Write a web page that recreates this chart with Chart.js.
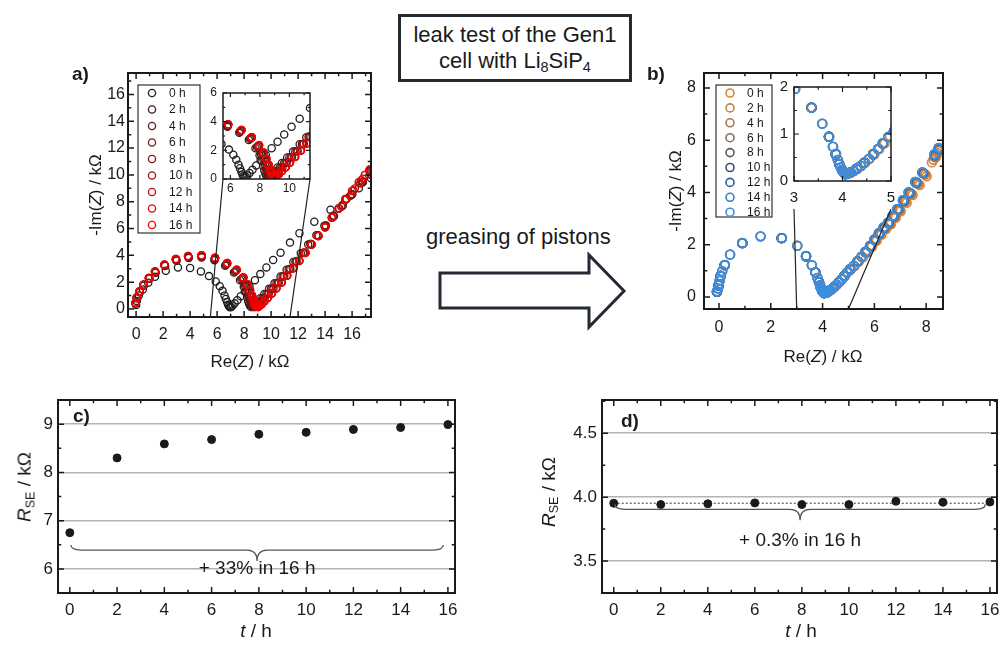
<!DOCTYPE html>
<html>
<head>
<meta charset="utf-8">
<title>leak test of the Gen1 cell with Li8SiP4</title>
<script src="https://cdn.jsdelivr.net/npm/chart.js@4.4.1/dist/chart.umd.min.js"></script>
<style>
  html, body { margin: 0; padding: 0; background: #fff; }
  body { position: relative; width: 1002px; height: 646px; overflow: hidden;
         font-family: "Liberation Sans", Arial, sans-serif; color: #1a1a1a; }
  canvas, .txt, svg { position: absolute; }
  .txt { white-space: nowrap; line-height: 1; }
  .rot { transform: translate(-50%, -50%) rotate(-90deg); }
  .ctr { transform: translate(-50%, -50%); }
  .panel { font-weight: bold; font-size: 19px; }
  sub { font-size: 0.66em; line-height: 0; vertical-align: -0.28em; }
  #title { position: absolute; left: 398px; top: 14px; width: 234px; height: 68px; box-sizing: border-box;
           border: 3px solid #232a33; text-align: center; font-size: 22px; line-height: 26px; padding-top: 5px; }
</style>
</head>
<body>
<svg width="1002" height="646" style="left:0;top:0">
  <polygon points="440,273 589,273 589,255 624,291 589,327 589,308 440,308" fill="#fff" stroke="#232a33" stroke-width="3"/>
</svg>
<div id="title">leak test of the Gen1<br>cell with Li<sub>8</sub>SiP<sub>4</sub></div>
<div class="txt" style="left:426px;top:226px;font-size:22px">greasing of pistons</div>

<canvas id="chartA"></canvas>
<canvas id="insetA"></canvas>
<canvas id="chartB"></canvas>
<canvas id="insetB"></canvas>
<canvas id="chartC"></canvas>
<canvas id="chartD"></canvas>
<canvas id="links"></canvas>

<div class="txt panel" style="left:72px;top:64px">a)</div>
<div class="txt panel" style="left:647px;top:64px">b)</div>
<div class="txt panel" style="left:73px;top:406px">c)</div>
<div class="txt panel" style="left:621px;top:411px">d)</div>

<div class="txt rot" style="left:95px;top:195px;font-size:17px">-Im(<i>Z</i>) / kΩ</div>
<div class="txt ctr" style="left:250px;top:361px;font-size:17px">Re(<i>Z</i>) / kΩ</div>
<div class="txt rot" style="left:675px;top:191px;font-size:17px">-Im(<i>Z</i>) / kΩ</div>
<div class="txt ctr" style="left:823px;top:356px;font-size:17px">Re(<i>Z</i>) / kΩ</div>
<div class="txt rot" style="left:24px;top:487px;font-size:19px"><i>R</i><sub>SE</sub> / kΩ</div>
<div class="txt ctr" style="left:256px;top:630px;font-size:19px"><i>t</i> / h</div>
<div class="txt rot" style="left:548px;top:492px;font-size:19px"><i>R</i><sub>SE</sub> / kΩ</div>
<div class="txt ctr" style="left:801px;top:630px;font-size:19px"><i>t</i> / h</div>

<script>
const FONT = '"Liberation Sans", Arial, sans-serif';
const INK = '#1a1a1a';

// ---------- a) impedance spectra before greasing, [Re(Z), -Im(Z)] in kOhm
const hoursA = ['0 h', '2 h', '4 h', '6 h', '8 h', '10 h', '12 h', '14 h', '16 h'];
const colorsA = ['#1e1e1e', '#3a1c1c', '#561c1c', '#6e1a1a', '#881616', '#a41212', '#c00c0c', '#dc0606', '#f50000'];

const a0h = [[0,0.3],[0.05,0.6],[0.2,1.0],[0.5,1.45],[0.9,1.95],[1.4,2.4],[2.2,2.85],[3.1,3.1],[4.0,3.05],[4.8,2.8],[5.4,2.45],[5.9,2.05],[6.2,1.7],[6.4,1.35],[6.55,1.0],[6.65,0.75],[6.75,0.5],[6.82,0.32],[6.88,0.2],[6.95,0.13],[7.05,0.15],[7.15,0.25],[7.3,0.42],[7.5,0.65],[7.75,0.95],[8.05,1.3],[8.4,1.7],[8.8,2.15],[9.2,2.6],[9.65,3.1],[10.15,3.65],[10.7,4.2],[11.4,4.95],[12.1,5.65],[13.2,6.5],[14.4,7.4],[15.5,8.2],[16.5,9.0],[17.4,9.75]];
const a2h = [[-0.02,0.42],[0.08,0.8],[0.28,1.25],[0.58,1.75],[0.98,2.25],[1.45,2.7],[2.15,3.2],[3.0,3.6],[3.9,3.8],[4.85,3.84],[5.8,3.64],[6.6,3.22],[7.25,2.72],[7.7,2.15],[7.98,1.65],[8.12,1.25],[8.22,0.9],[8.3,0.6],[8.37,0.38],[8.44,0.22],[8.52,0.15],[8.62,0.19],[8.76,0.33],[8.95,0.53],[9.2,0.8],[9.5,1.12],[9.85,1.5],[10.25,1.92],[10.7,2.42],[11.15,2.92],[11.65,3.5],[12.2,4.15],[12.75,4.8],[13.35,5.5],[13.95,6.2],[14.6,6.95],[15.3,7.75],[16.0,8.55],[16.8,9.45],[17.4,10.0]];
const a4h = [[-0.03,0.43],[0.07,0.82],[0.27,1.27],[0.57,1.77],[0.97,2.27],[1.42,2.74],[2.12,3.24],[2.97,3.65],[3.88,3.86],[4.85,3.9],[5.82,3.7],[6.65,3.3],[7.32,2.8],[7.8,2.22],[8.08,1.72],[8.25,1.3],[8.36,0.94],[8.44,0.63],[8.5,0.4],[8.57,0.23],[8.65,0.15],[8.75,0.2],[8.9,0.33],[9.1,0.53],[9.35,0.8],[9.65,1.12],[10.0,1.5],[10.4,1.93],[10.85,2.43],[11.3,2.95],[11.8,3.53],[12.35,4.18],[12.9,4.84],[13.45,5.5],[14.05,6.22],[14.65,6.95],[15.3,7.72],[16.0,8.55],[16.75,9.45],[17.35,10.1]];
const a6h = [[-0.04,0.44],[0.06,0.83],[0.26,1.28],[0.56,1.78],[0.96,2.28],[1.41,2.76],[2.11,3.26],[2.96,3.68],[3.87,3.9],[4.85,3.94],[5.83,3.75],[6.7,3.35],[7.38,2.85],[7.86,2.28],[8.15,1.78],[8.33,1.34],[8.46,0.96],[8.55,0.65],[8.62,0.41],[8.68,0.24],[8.75,0.15],[8.85,0.2],[9.0,0.33],[9.2,0.53],[9.45,0.8],[9.75,1.12],[10.1,1.5],[10.5,1.94],[10.93,2.44],[11.38,2.97],[11.86,3.55],[12.4,4.2],[12.93,4.84],[13.48,5.5],[14.06,6.2],[14.65,6.92],[15.28,7.7],[15.95,8.5],[16.7,9.45],[17.33,10.2]];
const a8h = [[-0.04,0.44],[0.06,0.84],[0.26,1.29],[0.56,1.79],[0.96,2.29],[1.41,2.78],[2.1,3.28],[2.95,3.7],[3.86,3.92],[4.85,3.96],[5.84,3.78],[6.72,3.38],[7.42,2.88],[7.9,2.31],[8.2,1.81],[8.38,1.37],[8.52,0.98],[8.62,0.66],[8.7,0.42],[8.77,0.24],[8.84,0.15],[8.94,0.2],[9.08,0.33],[9.28,0.54],[9.53,0.8],[9.83,1.13],[10.18,1.52],[10.57,1.96],[10.98,2.46],[11.43,3.0],[11.9,3.57],[12.42,4.2],[12.95,4.84],[13.48,5.5],[14.04,6.2],[14.6,6.9],[15.2,7.62],[15.85,8.42],[16.6,9.35],[17.3,10.25]];
const a10h = [[-0.05,0.45],[0.05,0.85],[0.25,1.3],[0.55,1.8],[0.95,2.3],[1.4,2.79],[2.1,3.29],[2.95,3.71],[3.85,3.93],[4.85,3.98],[5.85,3.8],[6.74,3.4],[7.44,2.9],[7.93,2.33],[8.22,1.83],[8.41,1.38],[8.55,0.99],[8.66,0.67],[8.74,0.42],[8.82,0.25],[8.89,0.16],[8.99,0.16],[9.1,0.23],[9.26,0.36],[9.46,0.56],[9.71,0.82],[10.01,1.14],[10.36,1.53],[10.76,1.98],[11.17,2.47],[11.61,3.02],[12.07,3.58],[12.53,4.18],[13.0,4.8],[13.5,5.45],[14.0,6.1],[14.52,6.82],[15.05,7.52],[15.6,8.22],[16.2,8.98],[16.8,9.72],[17.3,10.3]];
const a12h = [[-0.05,0.45],[0.05,0.85],[0.25,1.3],[0.55,1.8],[0.95,2.3],[1.4,2.8],[2.1,3.3],[2.95,3.72],[3.85,3.94],[4.85,3.99],[5.85,3.81],[6.75,3.41],[7.45,2.91],[7.94,2.34],[8.24,1.84],[8.43,1.39],[8.58,0.99],[8.69,0.67],[8.77,0.42],[8.85,0.25],[8.92,0.16],[9.02,0.15],[9.12,0.22],[9.28,0.35],[9.48,0.55],[9.73,0.81],[10.03,1.14],[10.38,1.54],[10.78,1.99],[11.18,2.49],[11.63,3.04],[12.08,3.59],[12.54,4.19],[13.0,4.8],[13.5,5.45],[14.0,6.1],[14.5,6.8],[15.02,7.5],[15.55,8.18],[16.1,8.86],[16.7,9.6],[17.3,10.35]];
const a14h = [[-0.05,0.45],[0.05,0.85],[0.25,1.3],[0.55,1.8],[0.95,2.3],[1.4,2.8],[2.1,3.3],[2.95,3.72],[3.85,3.95],[4.85,4.0],[5.85,3.82],[6.75,3.42],[7.45,2.92],[7.95,2.35],[8.25,1.85],[8.44,1.4],[8.59,1.0],[8.7,0.68],[8.79,0.42],[8.87,0.25],[8.94,0.16],[9.04,0.15],[9.14,0.22],[9.29,0.35],[9.49,0.55],[9.74,0.82],[10.04,1.15],[10.39,1.55],[10.79,2.0],[11.19,2.5],[11.64,3.05],[12.09,3.6],[12.54,4.2],[13.0,4.8],[13.5,5.45],[14.0,6.1],[14.5,6.8],[15.0,7.5],[15.5,8.15],[16.0,8.8],[16.5,9.45],[16.95,10.0],[17.3,10.4]];
const a16h = [[-0.05,0.45],[0.05,0.85],[0.25,1.3],[0.55,1.8],[0.95,2.3],[1.4,2.8],[2.1,3.3],[2.95,3.72],[3.85,3.95],[4.85,4.0],[5.85,3.82],[6.75,3.42],[7.45,2.92],[7.95,2.35],[8.25,1.85],[8.45,1.4],[8.6,1.0],[8.72,0.68],[8.8,0.42],[8.88,0.25],[8.95,0.16],[9.05,0.15],[9.15,0.22],[9.3,0.35],[9.5,0.55],[9.75,0.82],[10.05,1.15],[10.4,1.55],[10.8,2.0],[11.2,2.5],[11.65,3.05],[12.1,3.6],[12.55,4.2],[13.0,4.8],[13.5,5.45],[14.0,6.1],[14.5,6.8],[15.0,7.5],[15.5,8.15],[16.0,8.8],[16.5,9.45],[16.95,10.0],[17.3,10.4]];
const seriesA = [a0h, a2h, a4h, a6h, a8h, a10h, a12h, a14h, a16h];

const aXTicks = [0, 2, 4, 6, 8, 10, 12, 14, 16];
const aYTicks = [0, 2, 4, 6, 8, 10, 12, 14, 16];
const aInsetXTicks = [6, 8, 10];
const aInsetYTicks = [0, 2, 4, 6];

// ---------- b) impedance spectra after greasing
const hoursB = ['0 h', '2 h', '4 h', '6 h', '8 h', '10 h', '12 h', '14 h', '16 h'];
const colorsB = ['#df8033', '#c5824a', '#a47a5a', '#826f62', '#5b5b5e', '#3c4f6e', '#2e5f9c', '#3579c6', '#3d8fe0'];

const b0h = [[-0.07,0.2],[-0.03,0.32],[0,0.45],[0.03,0.62],[0.07,0.8],[0.13,0.98],[0.23,1.22],[0.43,1.62],[0.91,2.06],[1.61,2.32],[2.43,2.25],[3.03,1.96],[3.37,1.56],[3.59,1.22],[3.73,0.94],[3.81,0.73],[3.87,0.57],[3.91,0.45],[3.94,0.36],[3.97,0.29],[4.0,0.23],[4.03,0.18],[4.07,0.15],[4.12,0.16],[4.18,0.18],[4.24,0.21],[4.31,0.26],[4.39,0.32],[4.47,0.39],[4.56,0.47],[4.66,0.57],[4.76,0.68],[4.87,0.8],[4.98,0.96],[5.1,1.06],[5.24,1.18],[5.4,1.35],[5.56,1.52],[5.73,1.7],[5.91,1.92],[6.09,2.15],[6.27,2.38],[6.46,2.6],[6.64,2.78],[6.83,3.03],[7.02,3.28],[7.25,3.6],[7.48,3.9],[7.75,4.28],[8.02,4.62],[8.22,5.15],[8.38,5.35]];
const b2h = [[-0.07,0.21],[0,0.45],[0.06,0.8],[0.22,1.22],[0.9,2.06],[2.42,2.25],[3.36,1.57],[3.72,0.95],[3.86,0.58],[3.93,0.37],[3.99,0.24],[4.06,0.15],[4.16,0.18],[4.29,0.26],[4.45,0.39],[4.63,0.57],[4.83,0.79],[5.07,1.05],[5.36,1.35],[5.67,1.7],[5.86,1.92],[6.04,2.16],[6.22,2.4],[6.41,2.62],[6.6,2.8],[6.79,3.06],[6.98,3.31],[7.2,3.64],[7.43,3.94],[7.7,4.32],[7.97,4.68],[8.28,5.25],[8.44,5.5]];
const b4h = [[-0.08,0.2],[-0.01,0.45],[0.06,0.81],[0.22,1.23],[0.9,2.07],[2.42,2.26],[3.36,1.56],[3.72,0.94],[3.86,0.57],[3.93,0.36],[3.99,0.23],[4.06,0.15],[4.16,0.18],[4.29,0.26],[4.45,0.39],[4.63,0.57],[4.83,0.8],[5.06,1.05],[5.36,1.36],[5.66,1.71],[5.85,1.93],[6.03,2.17],[6.21,2.41],[6.4,2.63],[6.58,2.81],[6.77,3.07],[6.95,3.33],[7.17,3.66],[7.4,3.96],[7.66,4.35],[7.93,4.71],[8.32,5.35],[8.47,5.58]];
const b6h = [[-0.08,0.2],[-0.01,0.45],[0.06,0.8],[0.22,1.22],[0.9,2.06],[2.42,2.25],[3.36,1.56],[3.72,0.94],[3.86,0.57],[3.93,0.36],[3.99,0.23],[4.06,0.15],[4.16,0.18],[4.29,0.26],[4.45,0.39],[4.63,0.57],[4.83,0.8],[5.06,1.06],[5.35,1.37],[5.66,1.72],[5.85,1.94],[6.02,2.18],[6.2,2.42],[6.38,2.64],[6.56,2.82],[6.75,3.08],[6.93,3.34],[7.15,3.67],[7.37,3.97],[7.63,4.37],[7.9,4.73],[8.34,5.4],[8.49,5.63]];
const b8h = [[-0.08,0.2],[-0.02,0.44],[0.06,0.8],[0.22,1.22],[0.9,2.06],[2.42,2.25],[3.36,1.56],[3.72,0.94],[3.86,0.57],[3.93,0.36],[3.99,0.23],[4.06,0.15],[4.16,0.18],[4.29,0.26],[4.45,0.39],[4.63,0.57],[4.83,0.8],[5.06,1.06],[5.35,1.37],[5.66,1.73],[5.84,1.95],[6.01,2.19],[6.19,2.43],[6.37,2.65],[6.55,2.83],[6.73,3.09],[6.91,3.35],[7.13,3.68],[7.35,3.98],[7.61,4.38],[7.88,4.74],[8.33,5.43],[8.49,5.66]];
const b10h = [[-0.08,0.2],[-0.02,0.45],[0.06,0.8],[0.22,1.22],[0.9,2.06],[2.42,2.25],[3.36,1.56],[3.72,0.94],[3.86,0.57],[3.93,0.36],[3.99,0.23],[4.06,0.15],[4.16,0.18],[4.29,0.26],[4.45,0.39],[4.63,0.57],[4.83,0.8],[5.06,1.06],[5.35,1.37],[5.66,1.73],[5.84,1.96],[6.01,2.2],[6.18,2.44],[6.36,2.66],[6.53,2.84],[6.71,3.1],[6.89,3.36],[7.11,3.7],[7.33,4.0],[7.59,4.4],[7.86,4.76],[8.33,5.45],[8.48,5.69]];
const b12h = [[-0.08,0.2],[-0.01,0.45],[0.06,0.8],[0.22,1.22],[0.9,2.06],[2.42,2.25],[3.36,1.56],[3.72,0.94],[3.86,0.57],[3.93,0.36],[3.99,0.23],[4.06,0.15],[4.16,0.18],[4.29,0.26],[4.45,0.39],[4.63,0.57],[4.83,0.8],[5.06,1.06],[5.35,1.37],[5.66,1.73],[5.83,1.96],[6.0,2.2],[6.17,2.44],[6.35,2.66],[6.52,2.84],[6.7,3.1],[6.88,3.36],[7.1,3.7],[7.32,4.0],[7.58,4.4],[7.85,4.76],[8.32,5.46],[8.48,5.7]];
const b14h = [[-0.08,0.21],[-0.04,0.33],[-0.01,0.46],[0.02,0.63],[0.06,0.81],[0.12,0.99],[0.22,1.23],[0.43,1.63],[0.9,2.07],[1.6,2.32],[2.42,2.25],[3.02,1.96],[3.36,1.56],[3.58,1.22],[3.72,0.94],[3.8,0.73],[3.86,0.57],[3.9,0.45],[3.93,0.36],[3.96,0.29],[3.99,0.23],[4.02,0.18],[4.06,0.15],[4.11,0.16],[4.16,0.18],[4.22,0.21],[4.29,0.26],[4.37,0.32],[4.45,0.39],[4.54,0.47],[4.63,0.57],[4.73,0.68],[4.83,0.8],[4.94,0.93],[5.06,1.05],[5.2,1.19],[5.35,1.36],[5.5,1.54],[5.66,1.72],[5.84,1.95],[6.01,2.19],[6.18,2.43],[6.36,2.65],[6.53,2.83],[6.71,3.09],[6.9,3.35],[7.12,3.69],[7.34,3.99],[7.6,4.38],[7.87,4.74],[8.34,5.44],[8.5,5.68]];
const b16h = [[-0.08,0.2],[-0.04,0.32],[-0.01,0.45],[0.02,0.62],[0.06,0.8],[0.12,0.98],[0.22,1.22],[0.42,1.62],[0.9,2.06],[1.6,2.32],[2.42,2.25],[3.02,1.96],[3.36,1.56],[3.58,1.22],[3.72,0.94],[3.8,0.73],[3.86,0.57],[3.9,0.45],[3.93,0.36],[3.96,0.29],[3.99,0.23],[4.02,0.18],[4.06,0.15],[4.11,0.16],[4.16,0.18],[4.22,0.21],[4.29,0.26],[4.37,0.32],[4.45,0.39],[4.54,0.47],[4.63,0.57],[4.73,0.68],[4.83,0.8],[4.94,0.94],[5.06,1.06],[5.2,1.2],[5.35,1.37],[5.5,1.55],[5.66,1.73],[5.83,1.96],[6.0,2.2],[6.17,2.44],[6.35,2.66],[6.52,2.84],[6.7,3.1],[6.88,3.36],[7.1,3.7],[7.32,4.0],[7.58,4.4],[7.85,4.76],[8.32,5.46],[8.48,5.7]];
const seriesB = [b0h, b2h, b4h, b6h, b8h, b10h, b12h, b14h, b16h];

const bXTicks = [0, 2, 4, 6, 8];
const bYTicks = [0, 2, 4, 6, 8];
const bInsetXTicks = [3, 4, 5];
const bInsetYTicks = [0, 1, 2];

// ---------- c) / d) bulk resistance over time
const hoursT = [0, 2, 4, 6, 8, 10, 12, 14, 16];
const rseBefore = [6.75, 8.30, 8.59, 8.68, 8.79, 8.83, 8.89, 8.93, 8.99];
const rseAfter = [3.952, 3.942, 3.948, 3.955, 3.942, 3.942, 3.968, 3.960, 3.962];
const rseAfterMean = 3.952;
const tTicks = [0, 2, 4, 6, 8, 10, 12, 14, 16];
const cYTicks = [6, 7, 8, 9];
const dYTicks = [3.5, 4.0, 4.5];

// ---------- helpers
const pts = arr => arr.map(([x, y]) => ({ x, y }));

function steps(min, max, step) {
  const out = [];
  for (let v = Math.ceil(min / step - 1e-9) * step; v <= max + 1e-9; v += step) out.push(+v.toFixed(6));
  return out;
}

// box with inward major/minor ticks on all four sides
const framePlugin = {
  id: 'frame',
  beforeDraw(chart, args, o) {
    if (!o.fill) return;
    const a = chart.chartArea, ctx = chart.ctx;
    ctx.save();
    ctx.fillStyle = o.fill;
    ctx.fillRect(a.left, a.top, a.right - a.left, a.bottom - a.top);
    ctx.restore();
  },
  afterDatasetsDraw(chart, args, o) {
    const { ctx, chartArea: a, scales: { x, y } } = chart;
    const major = (s, v) => s.ticks.some(t => Math.abs(t.value - v) < 1e-6);
    ctx.save();
    ctx.strokeStyle = INK;
    ctx.lineWidth = o.tickWidth;
    ctx.beginPath();
    steps(x.min, x.max, o.xMinor).forEach(v => {
      const p = x.getPixelForValue(v), len = major(x, v) ? o.len : o.len * 0.55;
      ctx.moveTo(p, a.bottom); ctx.lineTo(p, a.bottom - len);
      ctx.moveTo(p, a.top); ctx.lineTo(p, a.top + len);
    });
    steps(y.min, y.max, o.yMinor).forEach(v => {
      const p = y.getPixelForValue(v), len = major(y, v) ? o.len : o.len * 0.55;
      ctx.moveTo(a.left, p); ctx.lineTo(a.left + len, p);
      ctx.moveTo(a.right, p); ctx.lineTo(a.right - len, p);
    });
    ctx.stroke();
    ctx.lineWidth = o.width;
    ctx.strokeRect(a.left, a.top, a.right - a.left, a.bottom - a.top);
    ctx.restore();
  }
};

// boxed legend inside the plot area
const keyPlugin = {
  id: 'key',
  afterDatasetsDraw(chart, args, o) {
    const { ctx, chartArea: a } = chart;
    ctx.save();
    ctx.fillStyle = '#fff';
    ctx.fillRect(a.left + o.left, a.top + o.top, o.w, o.h);
    ctx.strokeStyle = '#333';
    ctx.lineWidth = 1.2;
    ctx.strokeRect(a.left + o.left, a.top + o.top, o.w, o.h);
    ctx.font = o.size + 'px ' + FONT;
    ctx.textAlign = 'left';
    ctx.textBaseline = 'middle';
    chart.data.datasets.forEach((ds, i) => {
      const cy = a.top + o.row0 + i * o.step;
      ctx.beginPath();
      ctx.arc(a.left + o.mark, cy, o.r, 0, Math.PI * 2);
      ctx.strokeStyle = ds.borderColor;
      ctx.lineWidth = ds.pointBorderWidth;
      ctx.stroke();
      ctx.fillStyle = INK;
      ctx.fillText(ds.label, a.left + o.text, cy + 0.5);
    });
    ctx.restore();
  }
};

// curly brace under the series plus its label
const bracePlugin = {
  id: 'brace',
  afterDatasetsDraw(chart, args, o) {
    const { ctx, scales: { x, y } } = chart;
    const x0 = x.getPixelForValue(o.from), x1 = x.getPixelForValue(o.to);
    const m = (x0 + x1) / 2, yy = y.getPixelForValue(o.at), r = 10;
    ctx.save();
    ctx.strokeStyle = '#555';
    ctx.lineWidth = 1.3;
    ctx.beginPath();
    ctx.moveTo(x0, yy - 5);
    ctx.quadraticCurveTo(x0, yy, x0 + r, yy);
    ctx.lineTo(m - r, yy);
    ctx.quadraticCurveTo(m, yy, m, yy + 11);
    ctx.quadraticCurveTo(m, yy, m + r, yy);
    ctx.lineTo(x1 - r, yy);
    ctx.quadraticCurveTo(x1, yy, x1, yy - 5);
    ctx.stroke();
    ctx.fillStyle = INK;
    ctx.font = o.size + 'px ' + FONT;
    ctx.textAlign = 'center';
    ctx.textBaseline = 'middle';
    ctx.fillText(o.label, m, y.getPixelForValue(o.labelAt));
    ctx.restore();
  }
};

function axis(pos, o, size) {
  return {
    type: 'linear',
    position: pos,
    min: o.min,
    max: o.max,
    afterBuildTicks: s => { s.ticks = o.ticks.map(v => ({ value: v })); },
    afterFit: s => {
      if (pos === 'left') s.width = size; else s.height = size;
      s.paddingLeft = s.paddingRight = s.paddingTop = s.paddingBottom = 0;
    },
    ticks: {
      padding: o.pad,
      color: INK,
      autoSkip: false,
      maxRotation: 0,
      font: { family: FONT, size: o.font },
      callback: v => v.toFixed(o.dec || 0)
    },
    grid: { display: !!o.grid, drawTicks: false, color: '#b4b4b4', lineWidth: 1.5 },
    border: { display: false }
  };
}

// cv: canvas [left, top, width, height] on the page; box: plot frame [left, top, right, bottom] on the page
function makeChart(id, cv, box, o) {
  const canvas = document.getElementById(id);
  canvas.width = cv[2];
  canvas.height = cv[3];
  canvas.style.left = cv[0] + 'px';
  canvas.style.top = cv[1] + 'px';
  return new Chart(canvas, {
    type: 'scatter',
    data: { datasets: o.datasets },
    options: {
      responsive: false,
      animation: false,
      events: [],
      layout: { padding: { top: box[1] - cv[1], right: cv[0] + cv[2] - box[2], left: 0, bottom: 0 } },
      scales: {
        x: axis('bottom', o.x, cv[1] + cv[3] - box[3]),
        y: axis('left', o.y, box[0] - cv[0])
      },
      plugins: {
        legend: { display: false },
        tooltip: { enabled: false },
        frame: o.frame,
        key: o.key || false,
        brace: o.brace || false
      }
    },
    plugins: [framePlugin, keyPlugin, bracePlugin]
  });
}

function spectra(hours, colors, series, radius, width) {
  return hours.map((h, i) => ({
    label: h,
    data: pts(series[i]),
    order: hours.length - i,
    borderColor: colors[i],
    backgroundColor: 'rgba(0,0,0,0)',
    pointRadius: radius,
    pointBorderWidth: width
  }));
}

// ---------- charts
const chartA = makeChart('chartA', [60, 58, 320, 292], [128, 73, 371, 317], {
  datasets: spectra(hoursA, colorsA, seriesA, 3.6, 1.3),
  x: { min: -0.6, max: 17.4, ticks: aXTicks, pad: 8, font: 16 },
  y: { min: -0.6, max: 17.6, ticks: aYTicks, pad: 3, font: 16 },
  frame: { xMinor: 1, yMinor: 1, len: 6, width: 2, tickWidth: 1.5 },
  key: { left: 10, top: 12, w: 62, h: 148, row0: 20, step: 16.5, mark: 24, text: 41, r: 3.6, size: 12 }
});

const insetA = makeChart('insetA', [196, 84, 122, 114], [223, 93, 310, 179], {
  datasets: spectra(hoursA, colorsA, seriesA, 3.6, 1.3),
  x: { min: 5.5, max: 11.4, ticks: aInsetXTicks, pad: 2, font: 12 },
  y: { min: 0, max: 6, ticks: aInsetYTicks, pad: 6, font: 12 },
  frame: { xMinor: 1, yMinor: 1, len: 4, width: 1.5, tickWidth: 1.2, fill: '#fff' }
});

const chartB = makeChart('chartB', [650, 58, 310, 292], [704, 73, 943, 309], {
  datasets: spectra(hoursB, colorsB, seriesB, 4.4, 1.6),
  x: { min: -0.58, max: 8.65, ticks: bXTicks, pad: 9, font: 16 },
  y: { min: -0.46, max: 8.57, ticks: bYTicks, pad: 8, font: 16 },
  frame: { xMinor: 1, yMinor: 1, len: 6, width: 2, tickWidth: 1.5 },
  key: { left: 12, top: 12, w: 56, h: 132, row0: 20, step: 14.9, mark: 26, text: 43, r: 4, size: 12 }
});

const insetB = makeChart('insetB', [766, 78, 134, 132], [794, 87, 891, 181], {
  datasets: spectra(hoursB, colorsB, seriesB, 4.4, 1.6),
  x: { min: 3, max: 5, ticks: bInsetXTicks, pad: 8, font: 15 },
  y: { min: 0, max: 2, ticks: bInsetYTicks, pad: 6, font: 15 },
  frame: { xMinor: 0.5, yMinor: 0.5, len: 5, width: 1.5, tickWidth: 1.2, fill: '#fff' }
});

const chartC = makeChart('chartC', [0, 390, 470, 230], [58, 400, 455, 593], {
  datasets: [{
    label: 'R_SE before greasing',
    data: hoursT.map((t, i) => ({ x: t, y: rseBefore[i] })),
    pointRadius: 4, backgroundColor: INK, borderColor: INK
  }],
  x: { min: -0.5, max: 16.3, ticks: tTicks, pad: 7, font: 17 },
  y: { min: 5.5, max: 9.5, ticks: cYTicks, pad: 5, font: 17, grid: true },
  frame: { xMinor: 1, yMinor: 0.5, len: 6, width: 2, tickWidth: 1.5 },
  brace: { from: 0.05, to: 15.8, at: 6.39, label: '+ 33% in 16 h', labelAt: 6.0, size: 19 }
});

const chartD = makeChart('chartD', [540, 390, 462, 230], [602, 400, 1000, 593], {
  datasets: [{
    label: 'R_SE after greasing',
    data: hoursT.map((t, i) => ({ x: t, y: rseAfter[i] })),
    pointRadius: 4, backgroundColor: INK, borderColor: INK, order: 0
  }, {
    label: 'mean',
    data: [{ x: hoursT[0], y: rseAfterMean }, { x: hoursT[hoursT.length - 1], y: rseAfterMean }],
    showLine: true, borderDash: [2, 2], borderColor: '#666', borderWidth: 1.3, pointRadius: 0, order: 1
  }],
  x: { min: -0.5, max: 16.3, ticks: tTicks, pad: 7, font: 17 },
  y: { min: 3.25, max: 4.76, ticks: dYTicks, pad: 5, font: 17, dec: 1, grid: true },
  frame: { xMinor: 1, yMinor: 0.25, len: 6, width: 2, tickWidth: 1.5 },
  brace: { from: 0.05, to: 15.8, at: 3.905, label: '+ 0.3% in 16 h', labelAt: 3.66, size: 19 }
});

// ---------- zoom connectors from the inset to the main x range
const links = document.getElementById('links');
links.width = 1002;
links.height = 646;
links.style.left = '0px';
links.style.top = '0px';
links.style.pointerEvents = 'none';

function connect(main, inset, gap) {
  const ctx = links.getContext('2d');
  const mc = main.canvas, ic = inset.canvas, ia = inset.chartArea;
  ctx.save();
  ctx.strokeStyle = '#222';
  ctx.lineWidth = 1.2;
  ctx.beginPath();
  [inset.scales.x.min, inset.scales.x.max].forEach((v, i) => {
    ctx.moveTo(ic.offsetLeft + (i ? ia.right : ia.left), ic.offsetTop + ia.bottom + gap);
    ctx.lineTo(mc.offsetLeft + main.scales.x.getPixelForValue(v), mc.offsetTop + main.chartArea.bottom);
  });
  ctx.stroke();
  ctx.restore();
}
connect(chartA, insetA, 0);
connect(chartB, insetB, 28);
</script>
</body>
</html>
